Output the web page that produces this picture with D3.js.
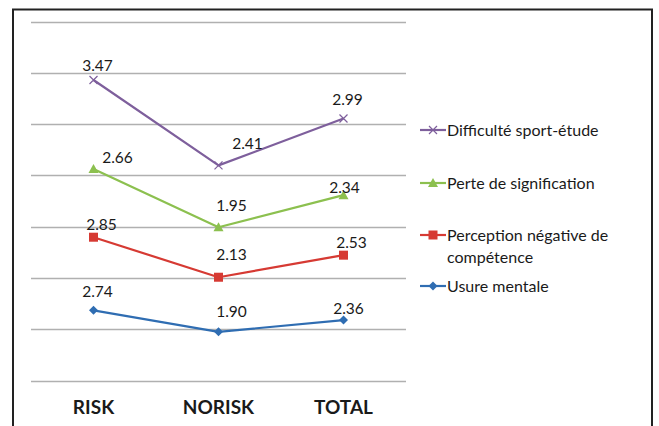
<!DOCTYPE html>
<html>
<head>
<meta charset="utf-8">
<script src="https://cdn.jsdelivr.net/npm/d3@7"></script>
<style>
  html, body { margin: 0; padding: 0; background: #fff; }
  svg { display: block; }
  text { font-family: Lato, "Open Sans", "Liberation Sans", sans-serif; fill: #1a1a1a; }
</style>
</head>
<body>
<svg id="chart" width="659" height="426"></svg>
<script>
// Groups on the horizontal axis
const categories = ["RISK", "NORISK", "TOTAL"];

// Mean scores per group (lines are stacked, bottom series first)
const usureMentale = [2.74, 1.90, 2.36];
const perceptionNegative = [2.85, 2.13, 2.53];
const perteSignification = [2.66, 1.95, 2.34];
const difficulteSportEtude = [3.47, 2.41, 2.99];

const seriesNames = [
  "Usure mentale",
  "Perception négative de compétence",
  "Perte de signification",
  "Difficulté sport-étude"
];
const seriesValues = [usureMentale, perceptionNegative, perteSignification, difficulteSportEtude];

// Value axis: 0 to 14, gridline every 2
const yMax = 14;
const yTickStep = 2;

// Styling per series
const colors = ["#2f6db2", "#d63a33", "#8cc04f", "#7e5f9c"];
const markers = ["diamond", "square", "triangle", "cross"];

// Hand-placed value labels: offset of label centre/baseline from its point
const labelOffsets = [
  [[4, -13], [13, -15], [5, -6]],
  [[8, -7], [13, -17], [8, -7]],
  [[24, -6], [13, -16], [1, -2]],
  [[4, -9], [29, -16], [4, -13]]
];

const svg = d3.select("#chart");

// Outer frame (open at the bottom edge of the view)
svg.append("path")
  .attr("d", "M13,430 L13,9.5 L652,9.5 L652,430")
  .attr("fill", "none")
  .attr("stroke", "#222")
  .attr("stroke-width", 2);

const plot = { left: 31, right: 406, top: 21.5, bottom: 380.6 };

const x = d3.scaleBand()
  .domain(categories)
  .range([plot.left, plot.right]);

const y = d3.scaleLinear()
  .domain([0, yMax])
  .range([plot.bottom, plot.top]);

// Horizontal gridlines
const gridTicks = d3.range(0, yMax + 0.001, yTickStep);
svg.append("g")
  .selectAll("line")
  .data(gridTicks)
  .join("line")
  .attr("x1", plot.left)
  .attr("x2", plot.right)
  .attr("y1", d => Math.round(y(d)) + 0.5)
  .attr("y2", d => Math.round(y(d)) + 0.5)
  .attr("stroke", "#b0b0b0")
  .attr("stroke-width", 1.3);

// Category axis labels
const xAxis = d3.axisBottom(x).tickSize(0).tickPadding(0);
const axisG = svg.append("g")
  .attr("transform", `translate(0,${plot.bottom + 20})`)
  .call(xAxis);
axisG.select(".domain").remove();
axisG.selectAll("text")
  .attr("font-size", 19)
  .attr("font-weight", "bold")
  .attr("fill", "#111")
  .attr("font-family", "Lato, 'Open Sans', sans-serif");

// Stack the series
const stacked = [];
let running = categories.map(() => 0);
seriesValues.forEach(vals => {
  running = running.map((r, i) => r + vals[i]);
  stacked.push(running.slice());
});

const cx = c => x(c) + x.bandwidth() / 2;

function drawMarker(g, type, color) {
  if (type === "diamond") {
    g.append("path").attr("d", "M0,-4.5 L4.5,0 L0,4.5 L-4.5,0 Z").attr("fill", color);
  } else if (type === "square") {
    g.append("rect").attr("x", -4.5).attr("y", -4.5).attr("width", 9).attr("height", 9).attr("fill", color);
  } else if (type === "triangle") {
    g.append("path").attr("d", "M0,-5 L5,4 L-5,4 Z").attr("fill", color);
  } else {
    g.append("path").attr("d", "M-4,-4 L4,4 M-4,4 L4,-4")
      .attr("stroke", color).attr("stroke-width", 1.2).attr("fill", "none");
  }
}

const line = d3.line()
  .x((d, i) => cx(categories[i]))
  .y(d => y(d));

stacked.forEach((vals, s) => {
  const g = svg.append("g");
  g.append("path")
    .attr("d", line(vals))
    .attr("fill", "none")
    .attr("stroke", colors[s])
    .attr("stroke-width", 2.2)
    .attr("stroke-linejoin", "round");
  vals.forEach((v, i) => {
    const m = g.append("g").attr("transform", `translate(${cx(categories[i])},${y(v)})`);
    drawMarker(m, markers[s], colors[s]);
  });
  vals.forEach((v, i) => {
    const off = labelOffsets[s][i];
    g.append("text")
      .attr("x", cx(categories[i]) + off[0])
      .attr("y", y(v) + off[1])
      .attr("text-anchor", "middle")
      .attr("font-size", 15.5)
      .text(seriesValues[s][i].toFixed(2));
  });
});

// Legend (top entry is the top series)
const legendRows = [
  { s: 3, y: 130, lines: ["Difficulté sport-étude"] },
  { s: 2, y: 183, lines: ["Perte de signification"] },
  { s: 1, y: 235, lines: ["Perception négative de", "compétence"] },
  { s: 0, y: 286, lines: ["Usure mentale"] }
];
const legend = svg.append("g");
legendRows.forEach(row => {
  const g = legend.append("g");
  g.append("line")
    .attr("x1", 420).attr("x2", 446)
    .attr("y1", row.y).attr("y2", row.y)
    .attr("stroke", colors[row.s]).attr("stroke-width", 2.2);
  const m = g.append("g").attr("transform", `translate(433,${row.y})`);
  drawMarker(m, markers[row.s], colors[row.s]);
  row.lines.forEach((t, k) => {
    g.append("text")
      .attr("x", 447)
      .attr("y", row.y + 5.5 + k * 22)
      .attr("font-size", 16)
      .text(t);
  });
});
</script>
</body>
</html>
